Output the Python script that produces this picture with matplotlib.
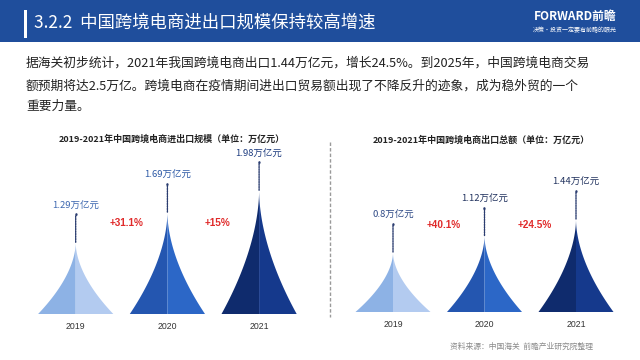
import matplotlib
matplotlib.use("Agg")
import matplotlib.pyplot as plt
from matplotlib.patches import Rectangle, Polygon
from matplotlib.lines import Line2D
import numpy as np

plt.rcParams['font.family'] = ['Noto Sans CJK SC', 'DejaVu Sans']

# ---------------- data ----------------
years = ['2019', '2020', '2021']
total_values = [1.29, 1.69, 1.98]          # 进出口规模 (万亿元)
export_values = [0.8, 1.12, 1.44]          # 出口总额 (万亿元)
total_growth = ['+31.1%', '+15%']
export_growth = ['+40.1%', '+24.5%']
unit = '万亿元'

title_main = '3.2.2  中国跨境电商进出口规模保持较高增速'
body_lines = [
    '据海关初步统计，2021年我国跨境电商出口1.44万亿元，增长24.5%。到2025年，中国跨境电商交易',
    '额预期将达2.5万亿。跨境电商在疫情期间进出口贸易额出现了不降反升的迹象，成为稳外贸的一个',
    '重要力量。',
]
left_title = '2019-2021年中国跨境电商进出口规模（单位：万亿元）'
right_title = '2019-2021年中国跨境电商出口总额（单位：万亿元）'
source = '资料来源：中国海关  前瞻产业研究院整理'

# ---------------- styles ----------------
W, H = 640, 360
half_colors = [('#8db2e5', '#b3cbf0'), ('#2456b0', '#2c67c7'), ('#0f2b6d', '#15398c')]
left_label_colors = ['#3e68b0', '#2d5aa6', '#1f3d80']
right_label_colors = ['#2f4a86', '#22335f', '#22335f']
red = '#e02a2a'

fig = plt.figure(figsize=(6.4, 3.6), dpi=100)
fig.patch.set_facecolor('white')

def fx(px):
    return px / W

def fy(py):
    return 1 - py / H

# header band
fig.patches.append(Rectangle((0, fy(42)), 1, 42 / H, transform=fig.transFigure,
                             facecolor='#1f4e9c', edgecolor='none', zorder=0))
fig.patches.append(Rectangle((fx(24), fy(38)), 3 / W, 28 / H, transform=fig.transFigure,
                             facecolor='white', edgecolor='none', zorder=1))
fig.text(fx(34), fy(23), title_main, color='white', fontsize=12.5, va='center', ha='left')
fig.text(fx(575), fy(16), 'FORWARD前瞻', color='white', fontsize=8.5, fontweight='bold',
         va='center', ha='center')
fig.text(fx(575), fy(30), '决策·投资一定要有前瞻的眼光', color='white', fontsize=4.3,
         va='center', ha='center')

# body text
for yy, line in zip([63, 86, 106], body_lines):
    fig.text(fx(26), fy(yy), line, color='#222222', fontsize=9.2, va='center', ha='left')

# separator
fig.add_artist(Line2D([fx(330), fx(330)], [fy(142), fy(317)], transform=fig.transFigure,
                      color='#9a9a9a', lw=1.0, linestyle=(0, (2.5, 1.5))))


def spike(ax, x, base, top, hw, colors, p=1.8):
    t = np.linspace(0, 1, 80)
    y = base + t * (top - base)
    w = hw * (1 - t) ** p
    left = np.column_stack([np.r_[x - w, x], np.r_[y, base]])
    right = np.column_stack([np.r_[x + w, x], np.r_[y, base]])
    ax.add_patch(Polygon(left, closed=True, facecolor=colors[0], edgecolor='none'))
    ax.add_patch(Polygon(right, closed=True, facecolor=colors[1], edgecolor='none'))


def draw_panel(rect, values, growth, base, ytop, label_colors, growth_y):
    ax = fig.add_axes(rect)
    ax.set_xlim(-0.5, 2.5)
    ax.set_ylim(base, ytop)
    for i, v in enumerate(values):
        spike(ax, i, base, v, 0.41, half_colors[i])
        ax.annotate('', xy=(i, v), xytext=(0, 27), textcoords='offset pixels',
                    arrowprops=dict(arrowstyle='-', linestyle=(0, (1, 0.8)), color='#2b3d70',
                                    lw=1.0, shrinkA=0, shrinkB=0))
        ax.annotate('\u2022', xy=(i, v), xytext=(0, 27), textcoords='offset pixels',
                    ha='center', va='center', fontsize=6, color='#2b3d70',
                    family=['DejaVu Sans'], annotation_clip=False)
        ax.annotate(f'{v:g}{unit}', xy=(i, v), xytext=(0, 37), textcoords='offset pixels',
                    ha='center', va='center', fontsize=6.8, color=label_colors[i],
                    annotation_clip=False)
    for k, g in enumerate(growth):
        ax.text(k + 0.55, growth_y, g, transform=ax.get_xaxis_transform(),
                ha='center', va='center', fontsize=7.2, fontweight='bold', color=red,
                family=['Liberation Sans', 'DejaVu Sans'])
    ax.set_xticks(range(len(years)))
    ax.set_xticklabels(years, fontsize=6.3, color='#333333',
                       family=['Liberation Sans', 'DejaVu Sans'])
    ax.tick_params(axis='x', length=0, pad=6)
    ax.set_yticks([])
    for s in ax.spines.values():
        s.set_visible(False)
    ax.patch.set_alpha(0)
    return ax

# left panel: base pixel 314, 75.4 px per unit, centres 75.7 + 91.7*i
ax1 = draw_panel([fx(29.85), 46 / H, 275.1 / W, 169.9 / H], total_values, total_growth,
                 0.347, 0.347 + 169.9 / 75.4, left_label_colors, 0.536)
# right panel: base pixel 312, 51.6 px per unit, centres 393 + 91.5*i
ax2 = draw_panel([fx(347.25), 48 / H, 274.5 / W, 131.6 / H], export_values, export_growth,
                 -0.35, -0.35 + 131.6 / 51.6, right_label_colors, 0.661)

fig.text(fx(172), fy(139), left_title, fontsize=6.5, fontweight='bold', color='#222222',
         ha='center', va='center')
fig.text(fx(481), fy(140), right_title, fontsize=6.5, fontweight='bold', color='#222222',
         ha='center', va='center')

fig.text(fx(450), fy(347), source, fontsize=5.6, color='#8a8a8a', ha='left', va='center')

fig.savefig('out.png', dpi=100)
